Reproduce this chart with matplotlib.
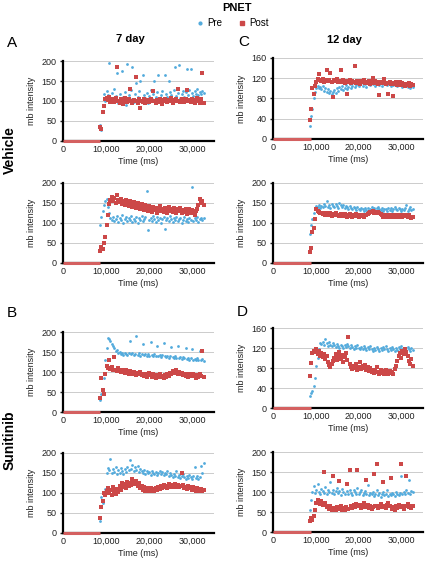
import matplotlib
matplotlib.use('Agg')
import matplotlib.pyplot as plt
import numpy as np
from matplotlib.lines import Line2D

plt.rcParams['font.family'] = ['Liberation Sans', 'DejaVu Sans']

BLUE = '#52aadc'
RED = '#cc4848'

# sampling times (ms) shared by every panel
time_ms = list(range(8600, 32601, 300))

# ---- 7 day, vehicle, upper ----
a1_pre = [40, 28, 90, 118, 100, 125, 115, 195, 108, 120,
          100, 130, 112, 170, 95, 118, 105, 175, 110, 122,
          90, 193, 115, 105, 128, 185, 98, 118, 145, 110,
          125, 150, 102, 165, 115, 108, 120, 95, 112, 128,
          105, 118, 150, 110, 122, 165, 100, 115, 125, 108,
          165, 118, 110, 150, 122, 115, 105, 128, 185, 112,
          120, 190, 108, 118, 125, 110, 122, 180, 115, 128,
          180, 120, 112, 125, 118, 130, 115, 122, 118, 125, 120]
a1_post = [35, 30, 72, 88, 104, 108, 102, 110, 98, 106,
           103, 97, 108, 185, 100, 96, 105, 102, 92, 108,
           100, 97, 104, 130, 99, 95, 103, 101, 160, 96,
           105, 82, 100, 98, 106, 94, 102, 100, 97, 104,
           99, 125, 101, 95, 103, 98, 105, 100, 93, 102,
           106, 99, 97, 103, 100, 108, 96, 102, 99, 104,
           130, 101, 97, 105, 100, 98, 106, 128, 99, 103,
           97, 105, 100, 95, 102, 108, 99, 96, 104, 170, 95]

# ---- 7 day, vehicle, lower ----
a2_pre = [95, 115, 130, 145, 155, 160, 140, 125, 112, 108,
          115, 105, 110, 118, 102, 112, 108, 120, 100, 110,
          115, 104, 112, 108, 118, 103, 110, 106, 115, 100,
          112, 108, 118, 104, 110, 115, 180, 82, 108, 112,
          105, 118, 110, 102, 115, 108, 112, 100, 110, 116,
          85, 108, 112, 105, 118, 110, 102, 112, 108, 115,
          104, 110, 112, 100, 108, 115, 106, 110, 102, 112,
          108, 190, 105, 112, 108, 115, 102, 110, 112, 108, 112]
a2_post = [30, 40, 35, 50, 65, 95, 120, 148, 158, 165,
           155, 162, 150, 170, 158, 152, 160, 148, 155, 145,
           158, 150, 142, 155, 148, 140, 152, 145, 138, 150,
           142, 135, 148, 140, 132, 145, 138, 130, 142, 135,
           128, 140, 132, 138, 125, 135, 142, 130, 136, 128,
           138, 132, 125, 140, 130, 135, 128, 138, 132, 125,
           135, 130, 138, 126, 132, 128, 136, 122, 130, 135,
           125, 132, 128, 120, 130, 135, 145, 160, 150, 155, 145]

# ---- 12 day, vehicle, upper ----
c1_pre = [25, 45, 60, 80, 92, 100, 104, 100, 102, 98,
          105, 95, 100, 92, 98, 90, 95, 88, 93, 97,
          90, 100, 95, 102, 98, 104, 96, 100, 106, 98,
          103, 108, 100, 105, 110, 102, 107, 112, 104, 108,
          110, 105, 112, 108, 103, 110, 114, 106, 110, 108,
          112, 105, 110, 113, 107, 110, 104, 112, 108, 110,
          106, 112, 108, 104, 110, 106, 112, 108, 104, 110,
          106, 112, 102, 108, 105, 110, 103, 108, 100, 106, 102]
c1_post = [38, 60, 100, 88, 105, 112, 118, 128, 116, 114,
           118, 112, 116, 137, 114, 117, 130, 113, 82, 116,
           114, 118, 112, 115, 137, 113, 116, 111, 115, 88,
           113, 117, 110, 114, 112, 145, 111, 115, 113, 109,
           114, 112, 116, 110, 113, 111, 115, 109, 113, 120,
           110, 114, 112, 108, 86, 113, 110, 112, 118, 109,
           111, 88, 113, 108, 111, 84, 109, 113, 107, 110,
           112, 106, 110, 108, 104, 109, 106, 110, 104, 108, 106]

# ---- 12 day, vehicle, lower ----
c2_pre = [72, 95, 110, 125, 138, 142, 140, 145, 138, 143,
          140, 148, 142, 155, 140, 145, 138, 147, 142, 140,
          148, 143, 138, 150, 144, 140, 146, 138, 143, 140,
          136, 142, 138, 135, 140, 137, 133, 140, 136, 132,
          138, 135, 130, 137, 133, 138, 131, 136, 140, 134,
          138, 132, 137, 140, 135, 133, 138, 131, 136, 134,
          130, 137, 133, 138, 131, 136, 140, 134, 132, 137,
          135, 130, 136, 133, 138, 145, 131, 136, 140, 133, 135]
c2_post = [28, 38, 78, 88, 110, 135, 130, 128, 124, 126,
           122, 125, 120, 123, 126, 120, 124, 118, 122, 120,
           125, 119, 121, 118, 123, 120, 117, 122, 119, 116,
           120, 123, 118, 115, 120, 117, 122, 119, 116, 121,
           118, 120, 115, 119, 120, 123, 126, 128, 127, 129,
           126, 128, 125, 127, 124, 122, 119, 115, 118, 121,
           116, 119, 114, 118, 121, 116, 119, 115, 118, 120,
           116, 119, 114, 118, 121, 117, 115, 119, 116, 113, 115]

# ---- 7 day, sunitinib, upper ----
b1_pre = [30, 45, 50, 85, 130, 160, 185, 182, 178, 170,
          165, 160, 152, 155, 148, 150, 145, 148, 143, 147,
          145, 142, 148, 178, 144, 147, 142, 146, 190, 143,
          147, 141, 145, 170, 142, 146, 140, 144, 141, 175,
          143, 139, 145, 141, 166, 140, 143, 138, 142, 172,
          139, 137, 141, 136, 140, 162, 138, 135, 139, 136,
          165, 134, 138, 133, 137, 135, 160, 132, 136, 131,
          134, 158, 130, 133, 129, 135, 131, 152, 130, 133, 128]
b1_post = [35, 85, 55, 45, 95, 115, 110, 130, 108, 112,
           104, 138, 106, 102, 110, 104, 100, 106, 102, 98,
           105, 100, 96, 102, 98, 94, 100, 96, 92, 98,
           94, 100, 92, 96, 90, 95, 88, 93, 98, 92,
           88, 94, 90, 86, 92, 88, 94, 87, 91, 86,
           92, 88, 94, 90, 98, 95, 102, 97, 100, 104,
           96, 100, 94, 98, 92, 96, 90, 94, 88, 92,
           96, 89, 94, 90, 86, 92, 88, 95, 90, 152, 88]

# ---- 7 day, sunitinib, lower ----
b2_pre = [30, 90, 75, 95, 110, 150, 162, 158, 185, 150,
          160, 152, 165, 148, 158, 150, 162, 155, 148, 160,
          152, 165, 158, 182, 160, 170, 155, 165, 158, 168,
          152, 160, 155, 150, 158, 148, 155, 150, 152, 146,
          155, 150, 148, 153, 145, 150, 155, 147, 152, 145,
          150, 148, 155, 142, 150, 146, 140, 148, 143, 155,
          140, 145, 138, 143, 148, 140, 136, 142, 138, 145,
          140, 135, 142, 165, 138, 143, 135, 140, 168, 150, 175]
b2_post = [38, 65, 80, 100, 95, 105, 112, 100, 108, 96,
           115, 104, 98, 110, 102, 118, 108, 125, 115, 122,
           112, 128, 118, 126, 120, 135, 128, 122, 130, 118,
           124, 112, 118, 108, 114, 106, 112, 108, 104, 112,
           106, 110, 104, 112, 108, 115, 110, 118, 112, 120,
           115, 118, 112, 122, 116, 120, 114, 118, 122, 116,
           120, 114, 118, 150, 120, 112, 116, 110, 118, 112,
           115, 108, 114, 110, 106, 112, 108, 104, 110, 106, 108]

# ---- 12 day, sunitinib, upper ----
d1_pre = [25, 30, 35, 45, 60, 85, 100, 118, 130, 128,
          133, 126, 138, 130, 125, 132, 127, 124, 130, 126,
          123, 128, 125, 121, 127, 124, 120, 126, 122, 128,
          124, 120, 126, 122, 118, 124, 120, 126, 121, 118,
          123, 119, 125, 120, 116, 122, 118, 124, 119, 115,
          121, 117, 123, 118, 114, 120, 116, 122, 118, 125,
          119, 115, 121, 117, 123, 118, 114, 120, 116, 122,
          118, 124, 119, 115, 121, 117, 123, 118, 114, 120, 117]
d1_post = [65, 90, 110, 115, 112, 118, 108, 114, 105, 110,
           102, 108, 98, 104, 92, 86, 82, 88, 95, 100,
           108, 96, 104, 112, 98, 106, 92, 102, 110, 96,
           143, 88, 82, 78, 85, 80, 88, 76, 82, 92,
           78, 84, 80, 86, 76, 82, 74, 80, 72, 77,
           70, 75, 82, 72, 68, 76, 71, 74, 69, 77,
           72, 68, 75, 70, 73, 68, 78, 85, 95, 105,
           110, 100, 115, 108, 118, 112, 104, 95, 88, 98, 85]

# ---- 12 day, sunitinib, lower ----
d2_pre = [55, 80, 100, 115, 98, 105, 120, 100, 95, 108,
          102, 98, 112, 96, 104, 100, 125, 98, 106, 94,
          102, 110, 97, 103, 92, 108, 100, 96, 120, 102,
          95, 105, 98, 92, 104, 100, 96, 110, 94, 100,
          105, 92, 98, 102, 95, 118, 92, 98, 94, 100,
          90, 96, 104, 92, 98, 88, 95, 100, 92, 96,
          105, 90, 96, 92, 98, 94, 90, 100, 95, 92,
          98, 140, 94, 100, 96, 104, 98, 130, 96, 102, 100]
d2_post = [28, 35, 30, 40, 55, 72, 80, 75, 70, 78,
           68, 150, 72, 62, 66, 58, 64, 56, 140, 60,
           54, 62, 58, 128, 64, 56, 60, 55, 62, 120,
           58, 155, 66, 60, 68, 62, 70, 155, 64, 68,
           60, 66, 72, 62, 130, 68, 60, 65, 58, 62,
           145, 66, 170, 60, 64, 70, 62, 125, 66, 60,
           68, 72, 64, 135, 58, 62, 55, 65, 60, 68,
           62, 170, 66, 58, 64, 140, 70, 62, 66, 60, 64]

# zero baseline recorded before the bolus reached the tissue
baseline_end = {'A1': 8600, 'A2': 8600, 'C1': 8800, 'C2': 8800,
                'B1': 8600, 'B2': 8600, 'D1': 8800, 'D2': 8800}

# panel key -> (pre, post, ymax, ystep, [left, top, right, bottom] in px)
panels = {
    'A1': (a1_pre, a1_post, 200, 50, [63, 61, 214, 141]),
    'A2': (a2_pre, a2_post, 200, 50, [63, 183, 214, 263]),
    'C1': (c1_pre, c1_post, 160, 40, [273, 58, 423, 139]),
    'C2': (c2_pre, c2_post, 200, 50, [273, 183, 423, 263]),
    'B1': (b1_pre, b1_post, 200, 50, [63, 332, 214, 412]),
    'B2': (b2_pre, b2_post, 200, 50, [63, 453, 214, 533]),
    'D1': (d1_pre, d1_post, 160, 40, [273, 328, 423, 408]),
    'D2': (d2_pre, d2_post, 200, 50, [273, 452, 423, 532]),
}

W, H = 432, 563
fig = plt.figure(figsize=(W / 100, H / 100), dpi=100)

for key, (pre, post, ymax, ystep, box) in panels.items():
    l, t, r, b = box
    ax = fig.add_axes([l / W, 1 - b / H, (r - l) / W, (b - t) / H])
    ax.plot([0, baseline_end[key]], [0, 0], color='#d46060', lw=2.2,
            solid_capstyle='butt', zorder=8, clip_on=False)
    ax.scatter(time_ms, pre, s=4, color=BLUE, marker='o', lw=0, zorder=4)
    ax.scatter(time_ms, post, s=6.5, color=RED, marker='s', lw=0, zorder=5)
    ax.set_xlim(0, 35000)
    ax.set_ylim(0, ymax)
    ax.set_xticks([0, 10000, 20000, 30000])
    ax.set_xticklabels(['0', '10,000', '20,000', '30,000'])
    ax.set_yticks(np.arange(0, ymax + 1, ystep))
    ax.grid(axis='y', color='#cccccc', lw=0.7, zorder=0)
    ax.set_axisbelow(True)
    for side in ['top', 'right']:
        ax.spines[side].set_visible(False)
    for side in ['left', 'bottom']:
        ax.spines[side].set_linewidth(1.6)
        ax.spines[side].set_zorder(6)
    ax.tick_params(axis='x', length=0, pad=3, labelsize=6.5, colors='#222222')
    ax.tick_params(axis='y', length=2.5, width=1, pad=2, labelsize=6.5,
                   colors='#222222')
    ax.set_xlabel('Time (ms)', fontsize=6.5, labelpad=2, color='#222222')
    ax.set_ylabel('mb intensity', fontsize=6.5, labelpad=4, color='#222222')

fig.text(237 / W, 1 - 8 / H, 'PNET', fontsize=8, fontweight='bold',
         ha='center', va='center')
handles = [Line2D([], [], ls='', marker='o', ms=2, color=BLUE),
           Line2D([], [], ls='', marker='s', ms=2.2, color=RED)]
fig.legend(handles, ['Pre', 'Post'], loc='center',
           bbox_to_anchor=(232 / W, 1 - 23 / H), ncol=2, frameon=False,
           fontsize=7, handlelength=1, handletextpad=0.3, columnspacing=1.5)

fig.text(130 / W, 1 - 39 / H, '7 day', fontsize=8, fontweight='bold',
         ha='center', va='center')
fig.text(344 / W, 1 - 40 / H, '12 day', fontsize=8, fontweight='bold',
         ha='center', va='center')
for letter, x, y in [('A', 12, 43), ('C', 244, 42), ('B', 12, 313),
                     ('D', 242, 312)]:
    fig.text(x / W, 1 - y / H, letter, fontsize=11, ha='center', va='center')
fig.text(10 / W, 1 - 150 / H, 'Vehicle', fontsize=10, fontweight='bold',
         rotation=90, ha='center', va='center')
fig.text(10 / W, 1 - 440 / H, 'Sunitinib', fontsize=10, fontweight='bold',
         rotation=90, ha='center', va='center')

plt.savefig('out.png', dpi=100)
